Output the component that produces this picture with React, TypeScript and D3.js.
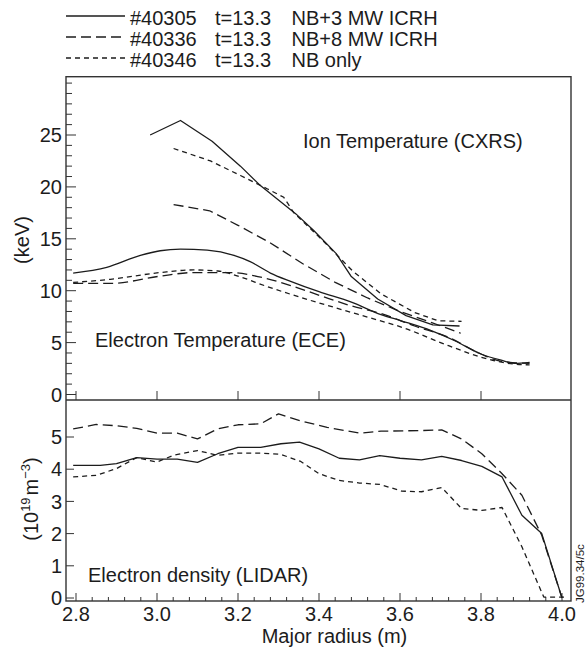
import React from "react";
import * as d3 from "d3";

type P = [number, number];

// Legend
const legendShots = ["#40305", "#40336", "#40346"];
const legendTimes = ["t=13.3", "t=13.3", "t=13.3"];
const legendHeating = ["NB+3 MW ICRH", "NB+8 MW ICRH", "NB only"];

// Ion temperature (CXRS), keV
const ionSolid: P[] = [[2.983,25.0],[3.058,26.4],[3.136,24.4],[3.206,22.0],[3.256,20.1],[3.343,17.4],[3.387,15.8],[3.442,13.6],[3.479,11.4],[3.545,9.2],[3.615,7.6],[3.681,6.7],[3.747,6.6]];
const ionLong: P[] = [[3.041,18.3],[3.13,17.7],[3.2,16.3],[3.28,14.6],[3.36,12.6],[3.44,10.8],[3.52,9.3],[3.6,8.0],[3.68,6.9],[3.75,5.9]];
const ionShort: P[] = [[3.041,23.7],[3.132,22.5],[3.206,21.1],[3.273,19.8],[3.313,19.0],[3.338,17.5],[3.405,15.0],[3.483,11.9],[3.553,9.7],[3.636,7.9],[3.694,7.1],[3.752,7.05]];

// Electron temperature (ECE), keV
const eceSolid: P[] = [[2.793,11.7],[2.876,12.25],[2.959,13.4],[3.008,13.85],[3.058,14.0],[3.124,13.9],[3.19,13.4],[3.23,12.8],[3.28,11.7],[3.33,10.9],[3.4,9.9],[3.48,8.9],[3.553,7.7],[3.603,7.1],[3.677,6.15],[3.734,5.2],[3.8,3.9],[3.85,3.3],[3.883,3.0],[3.92,3.1]];
const eceLong: P[] = [[2.793,10.7],[2.885,10.7],[3.008,11.4],[3.09,11.75],[3.18,11.75],[3.256,11.3],[3.33,10.5],[3.405,9.5],[3.479,8.55],[3.553,7.8],[3.636,6.6],[3.72,5.5],[3.8,3.9],[3.85,3.2],[3.92,3.0]];
const eceShort: P[] = [[2.793,10.8],[2.885,11.1],[3.008,11.75],[3.09,12.0],[3.15,11.9],[3.2,11.4],[3.272,10.4],[3.355,9.35],[3.437,8.4],[3.52,7.45],[3.603,6.5],[3.72,4.7],[3.8,3.6],[3.867,3.0],[3.92,2.85]];

// Electron density (LIDAR), 1e19 m^-3
const neSolid: P[] = [[2.793,4.12],[2.86,4.12],[2.9,4.17],[2.95,4.36],[3.0,4.31],[3.05,4.31],[3.1,4.21],[3.15,4.48],[3.2,4.68],[3.256,4.68],[3.306,4.79],[3.352,4.84],[3.4,4.63],[3.45,4.34],[3.5,4.29],[3.55,4.42],[3.6,4.34],[3.653,4.29],[3.703,4.4],[3.752,4.27],[3.802,4.09],[3.852,3.76],[3.901,2.57],[3.95,2.0],[4.0,0.0]];
const neLong: P[] = [[2.793,5.25],[2.85,5.39],[2.9,5.35],[2.95,5.27],[3.0,5.12],[3.05,5.12],[3.1,4.94],[3.15,5.25],[3.2,5.38],[3.256,5.41],[3.3,5.72],[3.355,5.5],[3.42,5.3],[3.5,5.12],[3.553,5.18],[3.653,5.2],[3.703,5.22],[3.752,4.94],[3.802,4.48],[3.852,3.86],[3.901,3.19],[3.95,1.95],[4.0,0.0]];
const neShort: P[] = [[2.793,3.76],[2.85,3.81],[2.9,4.02],[2.95,4.36],[3.0,4.22],[3.04,4.43],[3.1,4.58],[3.15,4.43],[3.2,4.5],[3.256,4.5],[3.306,4.46],[3.355,4.24],[3.4,3.86],[3.45,3.65],[3.5,3.57],[3.55,3.53],[3.604,3.32],[3.653,3.3],[3.703,3.43],[3.752,2.78],[3.802,2.72],[3.852,2.81],[3.901,1.59],[3.955,0.03],[4.005,0.03]];

const xTickLabels = ["2.8", "3.0", "3.2", "3.4", "3.6", "3.8", "4.0"];
const topYLabels = [0, 5, 10, 15, 20, 25];
const botYLabels = [0, 1, 2, 3, 4, 5];

const FONT = "'Liberation Sans', Arial, Helvetica, sans-serif";
const INK = "#1c1c1c";
const LONG = "10,5";
const SHORT = "5,4";

const L = 66, R = 571, T = 76.7, MID = 400, B = 601;

export default function App() {
  const x = d3.scaleLinear().domain([2.8, 4.0]).range([76, 562]);
  const yT = d3.scaleLinear().domain([0, 25]).range([394.5, 135]);
  const yB = d3.scaleLinear().domain([0, 5]).range([598, 437]);

  const lineLin = (ys: d3.ScaleLinear<number, number>) =>
    d3.line<P>().x(d => x(d[0])).y(d => ys(d[1]));
  const lineSmooth = (ys: d3.ScaleLinear<number, number>) =>
    d3.line<P>().x(d => x(d[0])).y(d => ys(d[1])).curve(d3.curveMonotoneX);

  const topLin = lineLin(yT);
  const topSm = lineSmooth(yT);
  const botLin = lineLin(yB);

  const majorX = xTickLabels.map(Number);
  const minorX = d3.range(2.8, 4.0001, 0.04).map(v => +v.toFixed(2));
  const topMinorY = d3.range(0, 31, 1);

  const curve = (d: string | null, dash?: string, key?: string) => (
    <path key={key} d={d || ""} fill="none" stroke={INK} strokeWidth={1.3}
      strokeDasharray={dash} strokeLinejoin="round" />
  );

  const legendDash = [undefined, LONG, SHORT];

  return (
    <svg width={587} height={651} style={{ position: "absolute", left: 0, top: 0, background: "#fff" }}
      fontFamily={FONT}>
      <rect x={0} y={0} width={587} height={651} fill="#fff" />
      {/* legend */}
      {legendShots.map((s, i) => {
        const base = 25 + i * 21;
        return (
          <g key={s}>
            <line x1={66} x2={125} y1={base - 9} y2={base - 9} stroke={INK} strokeWidth={1.3}
              strokeDasharray={legendDash[i]} />
            <text x={130} y={base} fontSize={20} fill={INK}>{s}</text>
            <text x={215} y={base} fontSize={20} fill={INK}>{legendTimes[i]}</text>
            <text x={291.5} y={base} fontSize={20} fill={INK}>{legendHeating[i]}</text>
          </g>
        );
      })}

      {/* frame */}
      <rect x={L} y={T} width={R - L} height={B - T} fill="none" stroke="#333" strokeWidth={1.4} />
      <line x1={L} x2={R} y1={MID} y2={MID} stroke="#333" strokeWidth={1.4} />

      {/* top panel y ticks */}
      {topMinorY.map(v => (
        <line key={"ty" + v} x1={L} x2={L + (v % 5 === 0 && v < 30 ? 10 : 6)} y1={yT(v)} y2={yT(v)}
          stroke="#333" strokeWidth={1} />
      ))}
      {topYLabels.map(v => (
        <text key={"tyl" + v} x={62} y={yT(v) + 7.2} fontSize={20} textAnchor="end" fill={INK}>{v}</text>
      ))}
      {/* top panel x ticks */}
      {majorX.filter(v => v < 3.9).map(v => (
        <line key={"tx" + v} x1={x(v)} x2={x(v)} y1={MID} y2={MID - 9} stroke="#333" strokeWidth={1} />
      ))}

      {/* bottom panel y ticks */}
      {botYLabels.map(v => (
        <g key={"by" + v}>
          <line x1={L} x2={L + 8} y1={yB(v)} y2={yB(v)} stroke="#333" strokeWidth={1} />
          <text x={62} y={yB(v) + 7.2} fontSize={20} textAnchor="end" fill={INK}>{v}</text>
        </g>
      ))}
      {/* bottom panel x ticks */}
      {minorX.map(v => {
        const isMajor = majorX.some(m => Math.abs(m - v) < 1e-6);
        return (
          <line key={"bx" + v} x1={x(v)} x2={x(v)} y1={B} y2={B - (isMajor ? 8 : 4)} stroke="#333" strokeWidth={1} />
        );
      })}
      {xTickLabels.map(t => (
        <text key={"xl" + t} x={x(+t)} y={621} fontSize={20} textAnchor="middle" fill={INK}>{t}</text>
      ))}

      {/* curves: top */}
      {curve(topLin(ionSolid), undefined, "is")}
      {curve(topLin(ionLong), LONG, "il")}
      {curve(topLin(ionShort), SHORT, "ish")}
      {curve(topSm(eceSolid), undefined, "es")}
      {curve(topSm(eceLong), LONG, "el")}
      {curve(topSm(eceShort), SHORT, "esh")}

      {/* curves: bottom */}
      {curve(botLin(neSolid), undefined, "ns")}
      {curve(botLin(neLong), LONG, "nl")}
      {curve(botLin(neShort), SHORT, "nsh")}

      {/* annotations */}
      <text x={303} y={148} fontSize={20} fill={INK}>Ion Temperature (CXRS)</text>
      <text x={95} y={347} fontSize={20} fill={INK}>Electron Temperature (ECE)</text>
      <text x={88} y={582} fontSize={20} fill={INK}>Electron density (LIDAR)</text>

      {/* axis titles */}
      <text transform="translate(29,240) rotate(-90)" fontSize={20} textAnchor="middle" fill={INK}>(keV)</text>
      <text transform="translate(38,499) rotate(-90)" fontSize={20} textAnchor="middle" fill={INK}>
        (10<tspan fontSize={13} dy={-8}>19</tspan><tspan dy={8} dx={2}>m</tspan><tspan fontSize={13} dy={-8}>−3</tspan><tspan dy={8}>)</tspan>
      </text>
      <text x={334.5} y={643} fontSize={20} textAnchor="middle" fill={INK}>Major radius (m)</text>
      <text transform="translate(584,603) rotate(-90)" fontSize={11.5} fill={INK}>JG99.34/5c</text>
    </svg>
  );
}
